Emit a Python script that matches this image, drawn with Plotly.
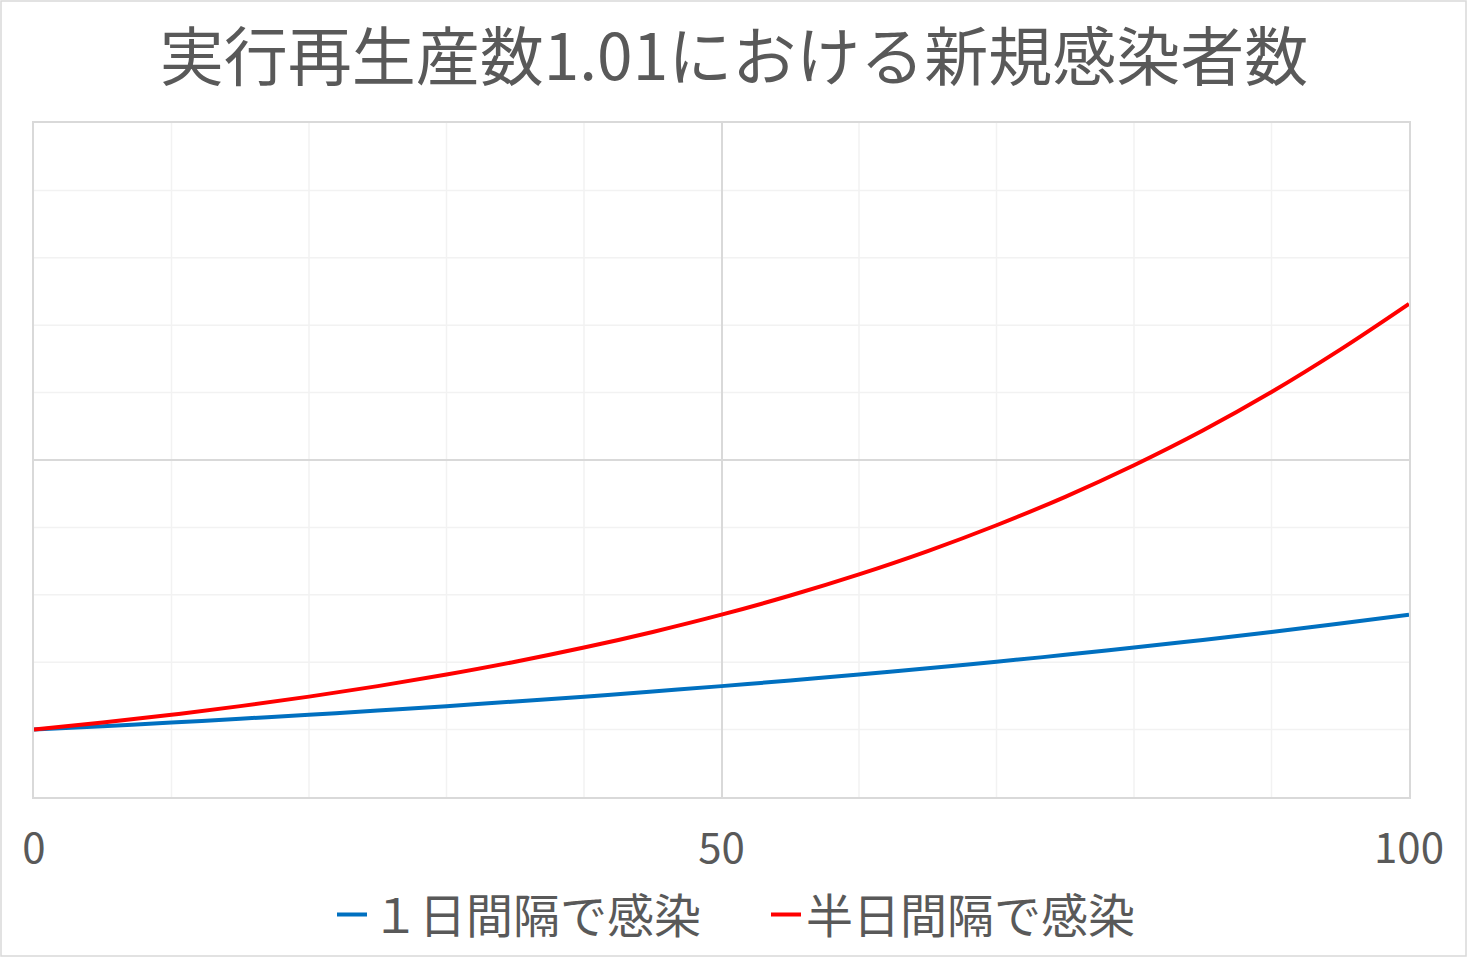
import plotly.graph_objects as go

days = [0, 5, 10, 15, 20, 25, 30, 35, 40, 45, 50, 55, 60, 65, 70, 75, 80, 85, 90, 95, 100]
one_day = [1.000, 1.051, 1.105, 1.161, 1.220, 1.282, 1.348, 1.417, 1.489, 1.565, 1.645,
           1.729, 1.817, 1.909, 2.007, 2.109, 2.217, 2.330, 2.449, 2.574, 2.705]
half_day = [1.000, 1.105, 1.220, 1.348, 1.489, 1.645, 1.817, 2.007, 2.217, 2.449, 2.705,
            2.989, 3.303, 3.649, 4.032, 4.454, 4.922, 5.437, 6.008, 6.637, 7.316]
names = ["１日間隔で感染", "半日間隔で感染"]
title = "実行再生産数1.01における新規感染者数"
x_ticks = [0, 50, 100]

FONT = "Noto Sans CJK JP"
GRAY = "#595959"

fig = go.Figure()
fig.add_trace(go.Scatter(x=days, y=one_day, mode="lines", name=names[0],
                         line=dict(color="#0070C0", width=4, shape="spline")))
fig.add_trace(go.Scatter(x=days, y=half_day, mode="lines", name=names[1],
                         line=dict(color="#FF0000", width=4, shape="spline")))

# minor gridlines (vertical every 10, horizontal every 1)
for v in range(10, 100, 10):
    if v != 50:
        fig.add_shape(type="line", xref="x", yref="paper", x0=v, x1=v, y0=0, y1=1,
                      line=dict(color="#F2F2F2", width=1.5), layer="below")
for v in range(1, 10):
    if v != 5:
        fig.add_shape(type="line", xref="paper", yref="y", x0=0, x1=1, y0=v, y1=v,
                      line=dict(color="#F2F2F2", width=1.5), layer="below")

# outer chart border
fig.add_shape(type="rect", xref="paper", yref="paper",
              x0=-33 / 1375, x1=(1466 - 34) / 1375,
              y0=-159 / 674, y1=1 + 122 / 674,
              line=dict(color="#D9D9D9", width=1.5), layer="below")

fig.update_layout(
    width=1468, height=958,
    margin=dict(l=34, r=59, t=123, b=161, autoexpand=False),
    paper_bgcolor="white", plot_bgcolor="white",
    font=dict(family=FONT, color=GRAY),
    title=dict(text=title, x=0.5, xanchor="center", y=1 - 58 / 958, yanchor="middle",
               font=dict(size=64, color=GRAY, family=FONT)),
    xaxis=dict(range=[0, 100], tickvals=x_ticks, ticktext=[str(t) for t in x_ticks],
               showgrid=True, gridcolor="#D9D9D9", gridwidth=1.5,
               showline=True, linecolor="#D9D9D9", linewidth=1.5, mirror=True,
               zeroline=False, ticks="", tickfont=dict(size=42, color=GRAY, family=FONT),
               ticklabelstandoff=14),
    yaxis=dict(range=[0, 10], tickvals=[0, 5, 10], showticklabels=False,
               showgrid=True, gridcolor="#D9D9D9", gridwidth=1.5,
               showline=True, linecolor="#D9D9D9", linewidth=1.5, mirror=True,
               zeroline=False, ticks=""),
    legend=dict(orientation="h", x=(332 - 34) / 1375, xanchor="left",
                yref="container", y=1 - 915 / 958, yanchor="middle",
                font=dict(size=47, color=GRAY, family=FONT),
                entrywidth=389, entrywidthmode="pixels", traceorder="normal"),
    showlegend=True,
)

fig.write_html("out.html", config={"displayModeBar": False},
               post_script="document.body.style.margin='0';")
